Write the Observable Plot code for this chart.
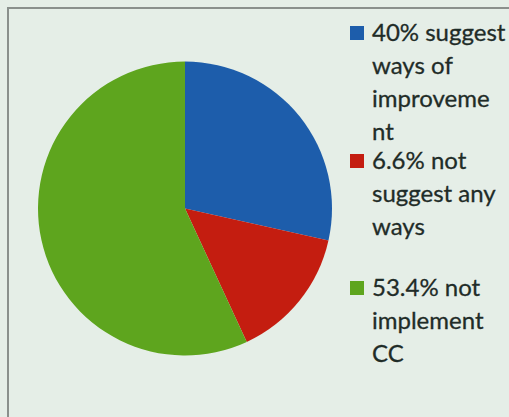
<!DOCTYPE html>
<html>
<head>
<meta charset="utf-8">
<script src="https://cdn.jsdelivr.net/npm/d3@7"></script>
<script src="https://cdn.jsdelivr.net/npm/@observablehq/plot@0.6"></script>
<style>
  html, body { margin: 0; padding: 0; }
  body { width: 509px; height: 417px; overflow: hidden; position: relative; background: #e5eee7; font-family: Lato, "Open Sans", sans-serif; }
  #frame { position: absolute; left: 7px; top: 7px; width: 600px; height: 500px; border: 2px solid #8a908c; box-sizing: border-box; }
  #chart { position: absolute; left: 0; top: 0; }
  .item { position: absolute; left: 350px; color: #1f2c28; font-size: 24px; line-height: 33px; -webkit-text-stroke: 0.3px #1f2c28; }
  .item .sw { position: absolute; left: 0; top: 11px; width: 14px; height: 14px; }
  .item .tx { position: absolute; left: 22px; top: 0; white-space: nowrap; }
</style>
</head>
<body>
<div id="frame"></div>
<div id="chart"></div>
<script>
// Slice shares as drawn in the picture (clockwise from 12 o'clock)
const categories = ["suggest ways of improvement", "not suggest any ways", "not implement CC"];
const shares = [28.5, 14.6, 56.9];
const colors = ["#1d5dab", "#c41d10", "#5ea51e"];
// Legend text lines as printed
const legendLines = [
  ["40% suggest", "ways of", "improveme", "nt"],
  ["6.6% not", "suggest any", "ways"],
  ["53.4% not", "implement", "CC"]
];
const legendTops = [15, 143, 270];

const data = categories.map((c, i) => ({category: c, value: shares[i], color: colors[i]}));

function pieMark(index, scales, values, dimensions) {
  const x = scales.x, y = scales.y;
  const cx = x(0), cy = y(0);
  const r = Math.abs(x(1) - x(0));
  const pie = d3.pie().sort(null).value(d => d.value);
  const arc = d3.arc().innerRadius(0).outerRadius(r);
  const g = d3.create("svg:g").attr("transform", `translate(${cx},${cy})`);
  g.selectAll("path").data(pie(data)).join("path")
    .attr("d", arc)
    .attr("fill", d => scales.color ? scales.color(d.data.category) : d.data.color);
  return g.node();
}

const plot = Plot.plot({
  width: 509,
  height: 417,
  marginLeft: 38,
  marginRight: 177,
  marginTop: 61,
  marginBottom: 61,
  style: {background: "transparent", overflow: "visible"},
  x: {domain: [-1, 1], axis: null},
  y: {domain: [-1, 1], axis: null},
  color: {domain: categories, range: colors},
  marks: [
    Plot.dot(data, {x: () => 0, y: () => 0, r: 0, fill: "category", stroke: null}),
    pieMark
  ]
});
document.getElementById("chart").appendChild(plot);

legendLines.forEach((lines, i) => {
  const item = document.createElement("div");
  item.className = "item";
  item.style.top = legendTops[i] + "px";
  const sw = document.createElement("div");
  sw.className = "sw";
  sw.style.background = colors[i];
  const tx = document.createElement("div");
  tx.className = "tx";
  lines.forEach((l, j) => {
    if (j) tx.appendChild(document.createElement("br"));
    tx.appendChild(document.createTextNode(l));
  });
  item.appendChild(sw);
  item.appendChild(tx);
  document.body.appendChild(item);
});
</script>
</body>
</html>
